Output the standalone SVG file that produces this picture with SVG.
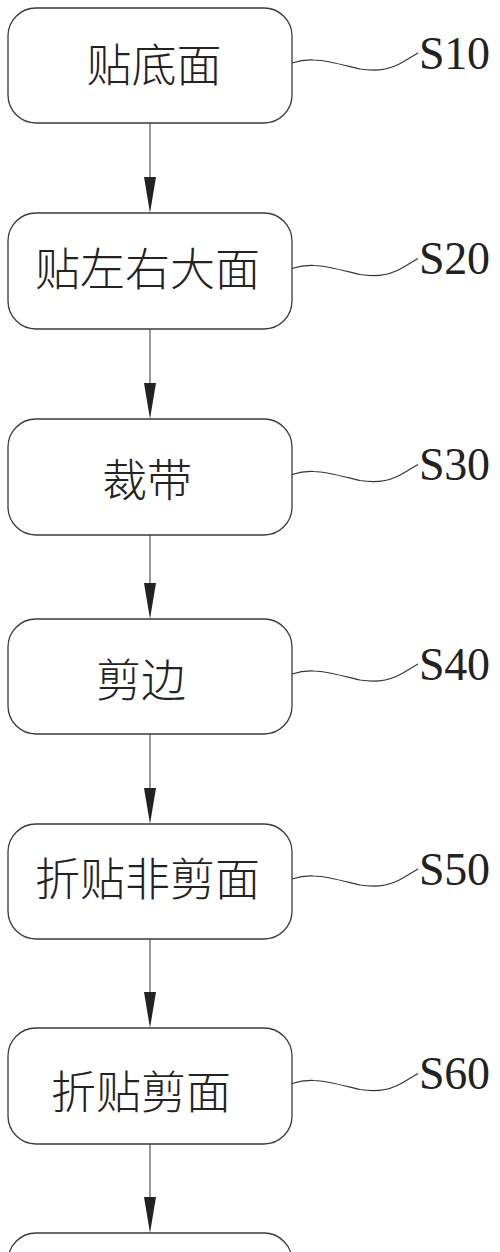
<svg xmlns="http://www.w3.org/2000/svg" xmlns:xlink="http://www.w3.org/1999/xlink" width="500" height="1252" viewBox="0 0 500 1252">
<style>
.box{fill:#fff;stroke:#3a3a3a;stroke-width:1.3}
.lbl{font-family:"Noto Sans CJK SC","Noto Sans CJK JP",sans-serif;font-size:45px;font-weight:300;fill:#222;text-anchor:middle;dominant-baseline:central}
.step{font-family:"Liberation Serif","Times New Roman",serif;font-size:46px;fill:#222}
.sq{fill:none;stroke:#333;stroke-width:1.1}
.ln{stroke:#555;stroke-width:1.2;fill:none}
.ah{fill:#222}
</style>
<defs>
<path id="squig" class="sq" d="M292,-2.5 C300,-5 306,-6 314,-5.5 C328,-5 345,0 360,3.5 C372,5.5 385,5 396,0 C404,-3.5 410,-8 418,-12.5"/>
<polygon id="head" class="ah" points="-6,-36 6,-36 0,0"/>
</defs>
<rect width="500" height="1252" fill="#fff"/>
<g id="connectors">
<line class="ln" x1="150" y1="123" x2="150" y2="190"/>
<use xlink:href="#head" transform="translate(150,213)"/>
<line class="ln" x1="150" y1="329" x2="150" y2="396"/>
<use xlink:href="#head" transform="translate(150,419)"/>
<line class="ln" x1="150" y1="535" x2="150" y2="596"/>
<use xlink:href="#head" transform="translate(150,619)"/>
<line class="ln" x1="150" y1="734" x2="150" y2="801"/>
<use xlink:href="#head" transform="translate(150,824)"/>
<line class="ln" x1="150" y1="939" x2="150" y2="1005"/>
<use xlink:href="#head" transform="translate(150,1028)"/>
<line class="ln" x1="150" y1="1144" x2="150" y2="1210"/>
<use xlink:href="#head" transform="translate(150,1233)"/>
<use xlink:href="#squig" transform="translate(0,65.5)"/>
<use xlink:href="#squig" transform="translate(0,271)"/>
<use xlink:href="#squig" transform="translate(0,477)"/>
<use xlink:href="#squig" transform="translate(0,676.5)"/>
<use xlink:href="#squig" transform="translate(0,881.5)"/>
<use xlink:href="#squig" transform="translate(0,1086)"/>
</g>
<g id="S10">
<rect class="box" x="8" y="8" width="284" height="115" rx="28" ry="28"/>
<text class="lbl" x="154" y="62">贴底面</text>
<text class="step" x="419" y="69" textLength="71">S10</text>
</g>
<g id="S20">
<rect class="box" x="8" y="213" width="284" height="116" rx="28" ry="28"/>
<text class="lbl" x="147.5" y="266">贴左右大面</text>
<text class="step" x="419" y="274" textLength="71">S20</text>
</g>
<g id="S30">
<rect class="box" x="8" y="419" width="284" height="116" rx="28" ry="28"/>
<text class="lbl" x="147" y="477">裁带</text>
<text class="step" x="419" y="480" textLength="71">S30</text>
</g>
<g id="S40">
<rect class="box" x="8" y="619" width="284" height="115" rx="28" ry="28"/>
<text class="lbl" x="141" y="677">剪边</text>
<text class="step" x="419" y="679.5" textLength="71">S40</text>
</g>
<g id="S50">
<rect class="box" x="8" y="824" width="284" height="115" rx="28" ry="28"/>
<text class="lbl" x="147.5" y="876">折贴非剪面</text>
<text class="step" x="419" y="884.5" textLength="71">S50</text>
</g>
<g id="S60">
<rect class="box" x="8" y="1028" width="284" height="116" rx="28" ry="28"/>
<text class="lbl" x="141" y="1089">折贴剪面</text>
<text class="step" x="419" y="1089" textLength="71">S60</text>
</g>
<g id="S70">
<rect class="box" x="8" y="1233" width="284" height="116" rx="28" ry="28"/>
</g>
</svg>
